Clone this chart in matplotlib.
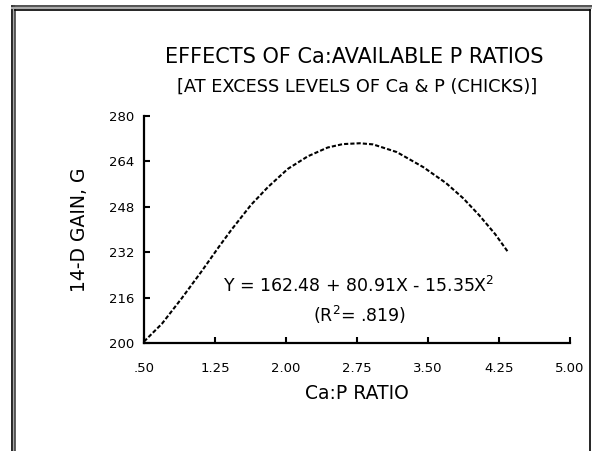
import matplotlib
matplotlib.use("Agg")
import matplotlib.pyplot as plt
from matplotlib.lines import Line2D

plt.rcParams['font.family'] = ['DejaVu Sans']

# valeurs (Ca:P ratio, gain 14 j)
ratio = [0.50, 0.69, 0.90, 1.11, 1.29, 1.42, 1.63, 1.81, 2.02, 2.23, 2.44,
         2.60, 2.78, 2.92, 3.17, 3.45, 3.69, 3.87, 4.04, 4.21, 4.35]
gain = [200.5, 206.8, 215.8, 225.3, 233.8, 239.7, 248.6, 254.9, 261.3, 265.7, 268.8,
        270.0, 270.3, 269.9, 267.2, 261.9, 256.3, 251.0, 245.0, 238.3, 231.8]

x_ticks = [0.50, 1.25, 2.00, 2.75, 3.50, 4.25, 5.00]
x_labels = [".50", "1.25", "2.00", "2.75", "3.50", "4.25", "5.00"]
y_ticks = [200, 216, 232, 248, 264, 280]

W, H = 592, 451
fig = plt.figure(figsize=(W / 100, H / 100), dpi=100)
ax = fig.add_axes([144 / W, 1 - 343 / H, 426 / W, 227.3 / H])

ax.plot(ratio, gain, color='black', lw=1.5, linestyle=(0, (2.0, 1.0)))

ax.set_xlim(0.5, 5.0)
ax.set_ylim(200, 280)
ax.set_xticks(x_ticks)
ax.set_xticklabels(x_labels)
ax.set_yticks(y_ticks)
ax.tick_params(direction='in', length=4, width=1.5, labelsize=9.5)
ax.tick_params(axis='x', pad=14)
ax.tick_params(axis='y', pad=7)
for s in ['top', 'right']:
    ax.spines[s].set_visible(False)
for s in ['left', 'bottom']:
    ax.spines[s].set_linewidth(1.6)

ax.set_xlabel("Ca:P RATIO", fontsize=13.5, labelpad=6)
ax.set_ylabel("14-D GAIN, G", fontsize=13.5, labelpad=14)

# équation
fig.text(359 / W, 1 - 286 / H, "Y = 162.48 + 80.91X - 15.35X$^2$", fontsize=12.5,
         ha='center', va='center')
fig.text(359 / W, 1 - 315 / H, "(R$^2$= .819)", fontsize=12.5, ha='center', va='center')

# titres
fig.text(354 / W, 1 - 57 / H, "EFFECTS OF Ca:AVAILABLE P RATIOS", fontsize=15,
         ha='center', va='center')
fig.text(357 / W, 1 - 87 / H, "[AT EXCESS LEVELS OF Ca & P (CHICKS)]", fontsize=12.8,
         ha='center', va='center')

# cadre double
def px_line(xs, ys, color, lw):
    fig.add_artist(Line2D([x / W for x in xs], [1 - y / H for y in ys],
                          color=color, lw=lw, transform=fig.transFigure))

px_line([11.5, 11.5], [5.5, H], 'black', 1.2)
px_line([13.5, 13.5], [6, H], '#aaaaaa', 1.5)
px_line([15, 15], [9, H], '#444444', 1.2)
px_line([11.5, W], [5.5, 5.5], '#333333', 1.2)
px_line([12, W], [7.5, 7.5], '#aaaaaa', 1.5)
px_line([15, 590], [9.5, 9.5], 'black', 1.2)
px_line([590, 590], [9.5, H], 'black', 1.2)

fig.savefig("out.png", dpi=100)
